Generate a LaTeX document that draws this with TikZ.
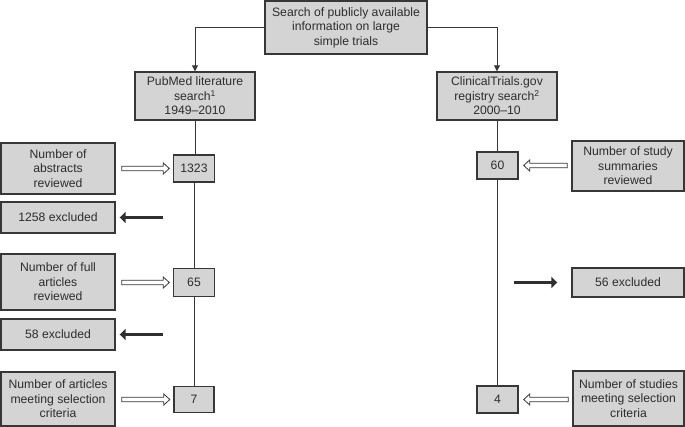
\documentclass[tikz,border=0pt]{standalone}
\usepackage{fontspec}
\setmainfont{Liberation Sans}
\usetikzlibrary{arrows.meta,calc}
\definecolor{boxfill}{RGB}{212,212,212}
\definecolor{boxline}{RGB}{55,55,55}
\definecolor{txt}{RGB}{45,45,45}
\tikzset{
  box/.style={draw=boxline, line width=1.4pt, fill=boxfill, text=txt, align=center,
    inner sep=0pt, font=\fontsize{12.2}{14.5}\selectfont},
  conn/.style={draw=boxline, line width=1pt},
  openarr/.style={draw=boxline, line width=0.8pt, fill=white, line join=miter},
  exarr/.style={draw=boxline!85!black, line width=3.8pt, -{Triangle[length=6pt,width=11pt]}},
}
% open (outlined) arrow from #1 to #2, gaps #3 at start and #4 at end; y taken from #2
\newcommand\openarrow[4]{%
  \draw[openarr] let \p1=#1, \p2=#2, \n1={ifthenelse(\x2>\x1,1,-1)} in
    ({\x1+\n1*#3},{\y2-2.2pt}) -- ({\x2-\n1*(#4+6pt)},{\y2-2.2pt}) --
    ({\x2-\n1*(#4+6pt)},{\y2-5.5pt}) -- ({\x2-\n1*#4},\y2) --
    ({\x2-\n1*(#4+6pt)},{\y2+5.5pt}) -- ({\x2-\n1*(#4+6pt)},{\y2+2.2pt}) --
    ({\x1+\n1*#3},{\y2+2.2pt}) -- cycle;}
\begin{document}
\begin{tikzpicture}[x=1pt,y=-1pt]
\useasboundingbox (0,0) rectangle (685,427);
% top
\node[box, minimum width=162pt, minimum height=53pt] (top) at (346,27.5) {Search of publicly available\\information on large\\simple trials};
\node[box, minimum width=120pt, minimum height=48pt] (pub) at (195,96) {PubMed literature\\search\textsuperscript{1}\\1949--2010};
\node[box, minimum width=120pt, minimum height=48pt] (ct) at (497,96) {ClinicalTrials.gov\\registry search\textsuperscript{2}\\2000--10};
% left side boxes
\node[box, minimum width=114pt, minimum height=51pt] (abs) at (58,168.5) {Number of\\abstracts\\reviewed};
\node[box, minimum width=114pt, minimum height=31pt] (ex1) at (58,217.5) {1258 excluded};
\node[box, minimum width=114pt, minimum height=56pt] (full) at (58,282) {Number of full\\articles\\reviewed};
\node[box, minimum width=114pt, minimum height=31pt] (ex2) at (58,334.5) {58 excluded};
\node[box, minimum width=114pt, minimum height=54pt] (art) at (58,399) {Number of articles\\meeting selection\\criteria};
% left numbers
\node[box, minimum width=41pt, minimum height=27pt] (n1) at (194,168.5) {1323};
\node[box, minimum width=41pt, minimum height=28pt] (n2) at (194,282.5) {65};
\node[box, minimum width=40pt, minimum height=26pt] (n3) at (194,399.5) {7};
% right numbers
\node[box, minimum width=41pt, minimum height=27pt] (r1) at (497.5,165.5) {60};
\node[box, minimum width=41pt, minimum height=27pt] (r2) at (497.5,399.5) {4};
% right boxes
\node[box, minimum width=112pt, minimum height=50pt] (stu) at (628,166) {Number of study\\summaries\\reviewed};
\node[box, minimum width=112pt, minimum height=29pt] (ex3) at (628,282.5) {56 excluded};
\node[box, minimum width=111pt, minimum height=55pt] (sts) at (628.5,398.5) {Number of studies\\meeting selection\\criteria};
% connectors
\draw[conn, -{Triangle[length=6pt,width=6pt]}] (top.west) -| (pub.north);
\draw[conn, -{Triangle[length=6pt,width=6pt]}] (top.east) -| (ct.north);
\draw[conn] (pub.south) -- (pub.south |- n1.north);
\draw[conn] (n1.south) -- (n1.south |- n2.north);
\draw[conn] (n2.south) -- (n2.south |- n3.north);
\draw[conn] (ct.south) -- (ct.south |- r1.north);
\draw[conn] (r1.south) -- (r1.south |- r2.north);
% open arrows
\openarrow{(abs.east)}{(n1.west)}{6pt}{3.5pt}
\openarrow{(full.east)}{(n2.west)}{6pt}{3.5pt}
\openarrow{(art.east)}{(n3.west)}{6pt}{3.5pt}
\openarrow{(stu.west)}{(r1.east)}{4pt}{5pt}
\openarrow{(sts.west)}{(r2.east)}{4pt}{5pt}
% excluded arrows
\draw[exarr, shorten <=31pt, shorten >=4pt] (ex1.east -| n1.south) -- (ex1.east);
\draw[exarr, shorten <=31pt, shorten >=4pt] (ex2.east -| n2.south) -- (ex2.east);
\draw[exarr, shorten <=16pt, shorten >=14pt] (ex3.west -| r1.south) -- (ex3.west);
\end{tikzpicture}
\end{document}
